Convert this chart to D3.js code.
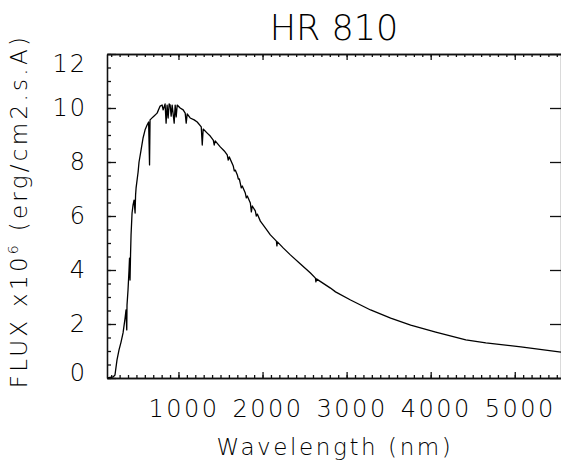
<!DOCTYPE html>
<html>
<head>
<meta charset="utf-8">
<script src="https://cdn.jsdelivr.net/npm/d3@7"></script>
<style>
  body { margin: 0; background: #fff; }
  svg { display: block; }
  text { font-family: "DejaVu Sans", sans-serif; font-weight: 200; fill: #000; }
</style>
</head>
<body>
<svg id="svg" width="561" height="464"></svg>
<script>
(function() {
  'use strict';

  // spectrum (nm, 1e6 erg/cm2/s/A)
  var wavelength = [
    160, 186, 222, 245, 269, 293, 317, 341, 365, 376, 385, 388, 400, 412, 418, 424, 430, 436,
    448, 460, 472, 484, 490, 496, 520, 531, 555, 579, 603, 627, 645, 656, 662, 698, 746, 782,
    806, 818, 841, 853, 865, 877, 889, 901, 913, 925, 949, 961, 973, 985, 1020, 1056, 1080,
    1092, 1104, 1139, 1187, 1223, 1271, 1283, 1294, 1342, 1378, 1414, 1425, 1437, 1497, 1545,
    1580, 1592, 1604, 1652, 1664, 1676, 1700, 1712, 1724, 1735, 1747, 1759, 1795, 1807, 1819,
    1855, 1867, 1878, 1914, 1926, 1938, 1974, 2033, 2093, 2165, 2171, 2177, 2248, 2331, 2451,
    2570, 2629, 2635, 2641, 2808, 2868, 3047, 3285, 3524, 3762, 4060, 4418, 4656, 5073, 5550
  ];
  var flux = [
    0.00, 0.02, 0.04, 0.11, 0.67, 1.04, 1.33, 1.67, 2.22, 2.52, 1.78, 2.70, 3.26, 4.00, 4.44, 3.63, 4.56, 5.30,
    6.11, 6.41, 6.59, 6.11, 6.78, 7.04, 7.63, 8.00, 8.44, 8.89, 9.19, 9.37, 9.48, 7.89, 9.56, 9.67, 9.81, 10.07,
    10.11, 9.93, 10.15, 9.44, 10.11, 9.63, 10.15, 10.11, 9.70, 10.11, 9.44, 10.11, 9.67, 10.11, 10.00, 9.93, 9.81,
    9.44, 9.78, 9.63, 9.56, 9.48, 9.30, 8.63, 9.22, 9.07, 8.96, 8.81, 8.63, 8.78, 8.56, 8.41,
    8.26, 8.07, 8.19, 7.85, 7.67, 7.70, 7.52, 7.37, 7.37, 7.22, 7.04, 7.11, 6.85, 6.67, 6.74,
    6.48, 6.15, 6.37, 6.19, 6.00, 6.07, 5.81, 5.56, 5.30, 5.07, 4.89, 5.04, 4.81, 4.56, 4.22,
    3.89, 3.70, 3.56, 3.67, 3.33, 3.19, 2.89, 2.52, 2.22, 1.96, 1.70, 1.41, 1.30, 1.15, 0.96
  ];
  var xTicks = [1000, 2000, 3000, 4000, 5000];
  var yTicks = [0, 2, 4, 6, 8, 10, 12];
  var xMinor = d3.range(200, 5550, 100);
  var yMinor = d3.range(0, 12.01, 0.5);

  var left = 107, right = 561, top = 54, bottom = 378;

  var svg = d3.select("#svg");

  var x = d3.scaleLinear().domain([150, 5550]).range([left, right]);
  var y = d3.scaleLinear().domain([0, 12]).range([bottom, top]);

  // title
  svg.append("text")
    .attr("x", 334).attr("y", 40)
    .attr("text-anchor", "middle")
    .style("font-size", "35px")
    .text("HR 810");

  // helper: add an axis group, ticks point into the box
  function addAxis(axis, tx, ty) {
    var g = svg.append("g")
      .attr("transform", "translate(" + tx + "," + ty + ")")
      .call(axis);
    g.attr("font-family", null).attr("font-size", null);
    g.selectAll("line, path")
      .attr("stroke", "#111")
      .attr("stroke-width", 1.3);
    return g;
  }

  // minor ticks
  addAxis(d3.axisBottom(x).tickValues(xMinor).tickSizeInner(-3).tickSizeOuter(0).tickFormat(""), 0, bottom);
  addAxis(d3.axisTop(x).tickValues(xMinor).tickSizeInner(-3).tickSizeOuter(0).tickFormat(""), 0, top);
  addAxis(d3.axisLeft(y).tickValues(yMinor).tickSizeInner(-4).tickSizeOuter(0).tickFormat(""), left, 0);

  // major ticks
  var xAxis = addAxis(d3.axisBottom(x).tickValues(xTicks).tickSizeInner(-6).tickSizeOuter(0)
    .tickPadding(22).tickFormat(d3.format("d")), 0, bottom);
  addAxis(d3.axisTop(x).tickValues(xTicks).tickSizeInner(-6).tickSizeOuter(0).tickFormat(""), 0, top);
  var yAxis = addAxis(d3.axisLeft(y).tickValues(yTicks).tickSizeInner(-9).tickSizeOuter(0)
    .tickPadding(20).tickFormat(d3.format("d")), left, 0);
  addAxis(d3.axisRight(y).tickValues(yTicks).tickSizeInner(-11).tickSizeOuter(0).tickFormat(""), right, 0);

  xAxis.selectAll("text")
    .style("font-size", "24px")
    .style("letter-spacing", "2.5px")
    .attr("dx", 5);

  // end labels sit inside the box, like the original
  yAxis.selectAll("text")
    .style("font-size", "24px")
    .style("letter-spacing", "2px")
    .attr("transform", function(d) {
      if (d === 12) return "translate(0,10)";
      if (d === 0) return "translate(0,-5)";
      return null;
    });

  // axis titles
  svg.append("text")
    .attr("x", 335).attr("y", 455)
    .attr("text-anchor", "middle")
    .style("font-size", "23px")
    .style("letter-spacing", "2.6px")
    .text("Wavelength (nm)");

  var yl = svg.append("text")
    .attr("transform", "translate(27,211) rotate(-90)")
    .attr("text-anchor", "middle")
    .style("font-size", "23px")
    .style("letter-spacing", "3.3px");
  yl.append("tspan").text("FLUX x10");
  yl.append("tspan").attr("dy", -9).style("font-size", "14px").text("6");
  yl.append("tspan").attr("dy", 9).text(" (erg/cm2.s.A)");

  // spectrum
  var line = d3.line()
    .x(function(d) { return x(d[0]); })
    .y(function(d) { return y(d[1]); });

  svg.append("path")
    .attr("d", line(d3.zip(wavelength, flux)))
    .attr("fill", "none")
    .attr("stroke", "#000")
    .attr("stroke-width", 1.3)
    .attr("stroke-linejoin", "round");
}());
</script>
</body>
</html>
